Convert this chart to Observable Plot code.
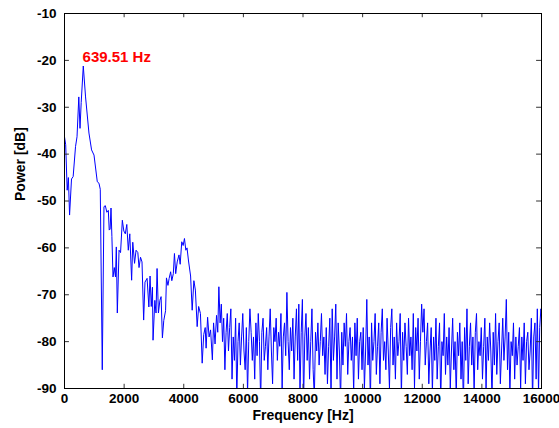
<!DOCTYPE html>
<html>
<head>
<meta charset="utf-8">
<script src="https://cdn.jsdelivr.net/npm/d3@7"></script>
<script src="https://cdn.jsdelivr.net/npm/@observablehq/plot@0.6"></script>
<style>
  html, body { margin: 0; padding: 0; background: #fff; }
</style>
</head>
<body>
<div id="chart"></div>
<script>
// Low-frequency part of the spectrum: [frequency Hz, power dB]
const lowBand = [
  [0,-36.3],[40,-38],[90,-47.7],[130,-45],[170,-53],[235,-45.3],[290,-44.8],[370,-38.4],
  [420,-36.3],[480,-27.8],[520,-34.5],[560,-29],[630,-21.2],[706,-27.8],[820,-35.5],
  [908,-39.1],[990,-40.2],[1100,-45.9],[1156,-46.2],[1200,-47.5],[1267,-86],[1324,-51.2],
  [1370,-51],[1420,-52.4],[1470,-52],[1500,-56.2],[1530,-56],[1560,-51.5],[1590,-57.6],
  [1627,-66.2],[1670,-64.2],[1710,-66.2],[1738,-59.8],[1772,-73.9],[1830,-60.5],[1880,-61],
  [1940,-54.1],[1990,-56.4],[2040,-57],[2090,-55],[2140,-60.5],[2190,-57],[2252,-66.9],
  [2290,-58.8],[2350,-63.3],[2400,-60.5],[2460,-61],[2500,-64.2],[2550,-62],[2600,-63],
  [2655,-75.4],[2700,-67.3],[2770,-66.5],[2830,-72.6],[2870,-66],[2910,-72.5],[2950,-68.4],
  [2970,-79.7],[3030,-71.2],[3070,-73.9],[3105,-64.4],[3150,-73.9],[3200,-71.2],[3240,-70.4],
  [3284,-79.2],[3330,-75.5],[3390,-73.4],[3420,-66.4],[3470,-68],[3510,-66.5],[3560,-65.1],
  [3600,-67],[3650,-65.5],[3688,-61.2],[3730,-65.5],[3780,-63],[3840,-61.5],[3880,-63.5],
  [3933,-58.7],[3980,-59.5],[4024,-58],[4070,-60.5],[4110,-60],[4160,-62.8],[4230,-66],
  [4283,-73.3],[4340,-67],[4390,-69],[4450,-76.8],[4500,-72.5],[4560,-74],[4618,-84.6],
  [4670,-78.5],[4720,-77],[4750,-81.4],[4800,-74.8],[4850,-79],[4900,-77.5],[4960,-83.9],
  [5000,-76],[5050,-80.5],[5100,-74.4],[5140,-78],[5178,-68.3]
];

// High-frequency noise floor, bins every 40 Hz starting at 5220 Hz
const noiseStartHz = 5220;
const noiseStepHz = 40;
const noiseDb = [
  -76,-72,-80,-75,-86,-78,-74,-82,-77,-73,
  -88,-79,-84,-75,-92,-80,-76,-85,-79,-74,
  -82,-86,-77,-91,-80,-73,-78,-84,-79,-88,
  -76,-83,-74,-80,-93,-78,-75,-84,-81,-77,
  -86,-79,-73,-82,-89,-77,-80,-75,-84,-78,
  -81,-74,-90,-79,-76,-83,-69.5,-80,-86,-77,
  -82,-75,-88,-79,-73,-84,-72,-91,-78,-71,
  -93,-79,-74,-84,-77,-88,-80,-73,-86,-92,
  -78,-82,-76,-85,-80,-74,-83,-79,-87,-77,
  -89,-81,-75,-91,-73,-84,-79,-72,-88,-76,
  -82,-93,-78,-85,-76,-81,-74,-87,-80,-77,
  -84,-79,-91,-76,-83,-75,-88,-80,-78,-86,
  -77,-90,-82,-71,-85,-79,-93,-76,-84,-80,
  -74,-87,-81,-76,-89,-78,-73,-84,-80,-86,
  -75,-82,-90,-77,-73,-85,-79,-88,-76,-83,
  -80,-74,-92,-78,-84,-76,-81,-87,-75,-83,
  -79,-86,-74,-90,-77,-82,-75,-88,-80,-72,
  -78,-73,-85,-80,-76,-89,-82,-77,-91,-79,
  -84,-75,-88,-81,-76,-93,-80,-83,-74,-87,
  -79,-85,-77,-90,-82,-75,-86,-80,-92,-78,
  -83,-76,-88,-80,-94,-77,-84,-73,-89,-81,
  -76,-85,-79,-91,-78,-74,-86,-80,-83,-77,
  -88,-81,-75,-90,-79,-84,-76,-82,-92,-78,
  -85,-74,-87,-80,-76,-89,-82,-75,-84,-79,
  -71,-86,-78,-91,-80,-83,-76,-88,-79,-85,
  -81,-77,-90,-79,-84,-76,-89,-80,-78,-86,
  -82,-75,-93,-79,-76,-88,-73,-91,-77,-73,-76
];

const peakHz = 639.51;
const peakDb = -21.2;
const peakLabel = "639.51 Hz";

const xTicks = [0,2000,4000,6000,8000,10000,12000,14000,16000];
const yTicks = [-90,-80,-70,-60,-50,-40,-30,-20,-10];

const spectrum = lowBand.map(([f, p]) => ({f, p}))
  .concat(noiseDb.map((p, i) => ({f: noiseStartHz + i * noiseStepHz, p})));

const font = "'Liberation Sans', Arial, Helvetica, sans-serif";

const chart = Plot.plot({
  width: 559,
  height: 428,
  marginLeft: 64,
  marginRight: 18,
  marginTop: 13,
  marginBottom: 40,
  style: {fontFamily: font, fontSize: "13.5px", fontWeight: "bold", color: "black", background: "white"},
  x: {domain: [0, 16000]},
  y: {domain: [-90, -10]},
  marks: [
    Plot.line(spectrum, {x: "f", y: "p", stroke: "#0000ff", strokeWidth: 1, clip: true}),
    // inward ticks on all four sides
    Plot.ruleX(xTicks, {x: d => d, y1: -90, y2: -89.1, stroke: "#333"}),
    Plot.ruleX(xTicks, {x: d => d, y1: -10, y2: -10.9, stroke: "#333"}),
    Plot.ruleY(yTicks, {y: d => d, x1: 0, x2: 165, stroke: "#333"}),
    Plot.ruleY(yTicks, {y: d => d, x1: 16000, x2: 15835, stroke: "#333"}),
    Plot.frame({stroke: "black", strokeWidth: 1}),
    Plot.axisX({ticks: xTicks, tickSize: 0, tickPadding: 5, tickFormat: d => String(d), label: null}),
    Plot.axisY({ticks: yTicks, tickSize: 0, tickPadding: 8, tickFormat: d => String(d), label: null}),
    Plot.text(["Frequency [Hz]"], {frameAnchor: "bottom", dy: 31, fontSize: 14, fontWeight: "bold", fill: "black"}),
    Plot.text(["Power [dB]"], {frameAnchor: "left", dx: -44, rotate: -90, fontSize: 14, fontWeight: "bold", fill: "black"}),
    Plot.text([{f: peakHz, p: peakDb, t: peakLabel}], {x: "f", y: "p", text: "t", textAnchor: "start", dx: -1, dy: -9, fill: "#ff0000", fontSize: 15, fontWeight: "bold"})
  ]
});

document.getElementById("chart").appendChild(chart);
</script>
</body>
</html>
